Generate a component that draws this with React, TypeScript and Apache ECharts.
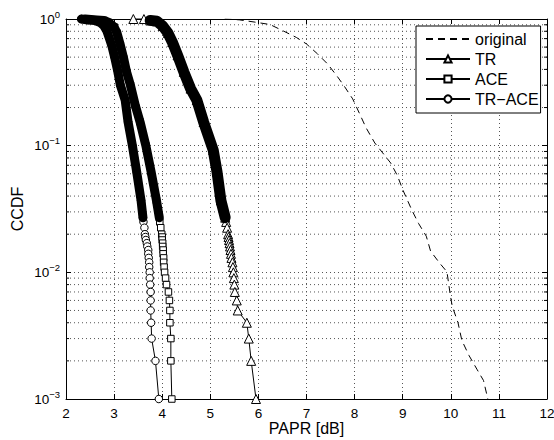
import React, { useEffect, useRef } from "react";
import * as echarts from "echarts";

// ---------- data ----------
const xTickValues = [2, 3, 4, 5, 6, 7, 8, 9, 10, 11, 12];
const yMinorLevels = [
  0.002, 0.003, 0.004, 0.005, 0.006, 0.007, 0.008, 0.009,
  0.02, 0.03, 0.04, 0.05, 0.06, 0.07, 0.08, 0.09,
  0.2, 0.3, 0.4, 0.5, 0.6, 0.7, 0.8, 0.9,
];

const originalX = [5.3, 5.6, 5.91, 6.24, 6.52, 6.79, 7.0, 7.23, 7.44, 7.64, 7.79, 7.96, 8.1, 8.24, 8.42, 8.57, 8.75, 8.89, 9.0, 9.19, 9.33, 9.49, 9.58, 9.77, 9.92, 9.99, 10.03, 10.15, 10.23, 10.38, 10.55, 10.68, 10.77];
const originalP = [1.0, 0.985, 0.947, 0.905, 0.804, 0.715, 0.635, 0.53, 0.441, 0.352, 0.293, 0.234, 0.18, 0.138, 0.105, 0.089, 0.073, 0.058, 0.045, 0.031, 0.0243, 0.0193, 0.0147, 0.0118, 0.0101, 0.0066, 0.0054, 0.004, 0.0029, 0.0022, 0.0017, 0.0014, 0.001];

const trX = [3.4, 3.62, 3.75, 3.89, 4.01, 4.12, 4.21, 4.32, 4.45, 4.59, 4.72, 4.86, 5.06, 5.14, 5.22, 5.31, 5.33, 5.35, 5.37, 5.38, 5.39, 5.4, 5.41, 5.42, 5.43, 5.44, 5.46, 5.47, 5.48, 5.49, 5.5, 5.51, 5.55, 5.57, 5.76, 5.8, 5.85, 5.95];
const trP = [1, 0.999, 0.975, 0.96, 0.881, 0.775, 0.658, 0.517, 0.382, 0.282, 0.229, 0.154, 0.0925, 0.062, 0.037, 0.027, 0.025, 0.0225, 0.02, 0.019, 0.018, 0.017, 0.016, 0.015, 0.014, 0.013, 0.012, 0.011, 0.01, 0.009, 0.008, 0.007, 0.006, 0.005, 0.004, 0.003, 0.002, 0.001];

const aceX = [2.4, 2.64, 2.79, 2.89, 3.0, 3.06, 3.13, 3.2, 3.26, 3.34, 3.44, 3.54, 3.66, 3.77, 3.88, 3.94, 3.95, 3.97, 3.99, 4.0, 4.0, 4.01, 4.01, 4.02, 4.02, 4.03, 4.03, 4.04, 4.05, 4.07, 4.09, 4.13, 4.15, 4.16, 4.16, 4.18, 4.18, 4.2];
const aceP = [1, 0.982, 0.973, 0.938, 0.865, 0.775, 0.62, 0.486, 0.381, 0.3, 0.208, 0.154, 0.1, 0.062, 0.037, 0.027, 0.025, 0.0225, 0.02, 0.019, 0.018, 0.017, 0.016, 0.015, 0.014, 0.013, 0.012, 0.011, 0.01, 0.009, 0.008, 0.007, 0.006, 0.005, 0.004, 0.003, 0.002, 0.001];

const trAceX = [2.32, 2.46, 2.6, 2.71, 2.79, 2.85, 2.9, 2.95, 3.01, 3.07, 3.13, 3.23, 3.29, 3.38, 3.47, 3.56, 3.6, 3.61, 3.63, 3.64, 3.65, 3.66, 3.68, 3.69, 3.71, 3.71, 3.72, 3.73, 3.73, 3.74, 3.74, 3.75, 3.76, 3.76, 3.76, 3.77, 3.78, 3.86, 3.93];
const trAceP = [1, 0.982, 0.973, 0.938, 0.881, 0.804, 0.708, 0.62, 0.501, 0.396, 0.3, 0.229, 0.154, 0.1, 0.062, 0.037, 0.027, 0.025, 0.0225, 0.02, 0.019, 0.018, 0.017, 0.016, 0.015, 0.014, 0.013, 0.012, 0.011, 0.01, 0.009, 0.008, 0.007, 0.006, 0.005, 0.004, 0.003, 0.002, 0.001];

const seriesNames = ["original", "TR", "ACE", "TR\u2212ACE"];

// ---------- helpers ----------
const zip = (xs: number[], ps: number[]) => xs.map((x, i) => [x, ps[i]]);
const FONT = "Liberation Sans";

export default function App() {
  const ref = useRef<HTMLDivElement>(null);

  useEffect(() => {
    if (!ref.current) return;
    const chart = echarts.init(ref.current, null, { renderer: "svg" });

    const trData = zip(trX, trP);
    const aceData = zip(aceX, aceP);
    const trAceData = zip(trAceX, trAceP);

    const dotted = { color: "#555", width: 1, type: [1, 3] as any };

    const markerSeries = (name: string, data: number[][], symbol: string, size: number) => ({
      name,
      type: "line",
      data,
      symbol,
      symbolSize: size,
      showSymbol: true,
      showAllSymbol: true,
      clip: false,
      silent: true,
      z: 3,
      lineStyle: { color: "#000", width: 1 },
      itemStyle: { color: "#fff", borderColor: "#000", borderWidth: 1 },
    });

    const bandSeries = (name: string, data: number[][], width: number) => ({
      name,
      type: "line",
      data: data.filter((d) => d[1] >= 0.027),
      symbol: "none",
      clip: false,
      silent: true,
      z: 4,
      lineStyle: { color: "#000", width, cap: "round", join: "round" },
    });

    const option: any = {
      animation: false,
      textStyle: { fontFamily: FONT },
      grid: { left: 66, right: 7, top: 19, bottom: 41, containLabel: false, outerBoundsMode: "none" },
      legend: {
        data: seriesNames,
        orient: "vertical",
        left: 416,
        top: 26,
        backgroundColor: "#fff",
        borderColor: "#000",
        borderWidth: 1,
        borderRadius: 0,
        padding: [5, 2, 6, 9],
        itemWidth: 44,
        itemHeight: 9,
        itemGap: 4,
        selectedMode: false,
        textStyle: { fontSize: 16, color: "#000", fontFamily: FONT },
        z: 10,
      },
      xAxis: [
        {
          type: "value",
          min: xTickValues[0],
          max: xTickValues[xTickValues.length - 1],
          interval: 1,
          name: "PAPR [dB]",
          nameLocation: "middle",
          nameGap: 21,
          nameMoveOverlap: false,
          nameTextStyle: { fontSize: 16, color: "#000", fontFamily: FONT },
          axisLine: { show: true, lineStyle: { color: "#000", width: 1 } },
          axisTick: { show: true, inside: true, length: 5, lineStyle: { color: "#000" } },
          axisLabel: { fontSize: 13.5, color: "#000", margin: 7, showMinLabel: true, showMaxLabel: true, fontFamily: FONT },
          splitLine: { show: true, lineStyle: dotted },
        },
        {
          type: "value",
          position: "top",
          min: xTickValues[0],
          max: xTickValues[xTickValues.length - 1],
          interval: 1,
          axisLine: { show: true, lineStyle: { color: "#000", width: 1 } },
          axisTick: { show: true, inside: true, length: 5, lineStyle: { color: "#000" } },
          axisLabel: { show: false },
          splitLine: { show: false },
        },
      ],
      yAxis: [
        {
          type: "log",
          logBase: 10,
          min: 0.001,
          max: 1,
          name: "CCDF",
          nameLocation: "middle",
          nameGap: 41,
          nameMoveOverlap: false,
          nameTextStyle: { fontSize: 16, color: "#000", fontFamily: FONT },
          axisLine: { show: true, lineStyle: { color: "#000", width: 1 } },
          axisTick: { show: true, inside: true, length: 5, lineStyle: { color: "#000" } },
          axisLabel: {
            color: "#000",
            margin: 6,
            showMinLabel: true,
            showMaxLabel: true,
            formatter: (v: number) => {
              const e = Math.round(Math.log10(v));
              const s = e === 0 ? "0" : "\u2212" + String(-e);
              return "{b|10}{s|" + s + "}";
            },
            rich: {
              b: { fontSize: 13.5, lineHeight: 20, color: "#000", fontFamily: FONT },
              s: { fontSize: 9.5, lineHeight: 10, verticalAlign: "top", color: "#000", fontFamily: FONT },
            },
          },
          splitLine: { show: true, lineStyle: dotted },
        },
        {
          type: "log",
          logBase: 10,
          min: 0.001,
          max: 1,
          position: "right",
          axisLine: { show: true, lineStyle: { color: "#000", width: 1 } },
          axisTick: { show: true, inside: true, length: 5, lineStyle: { color: "#000" } },
          axisLabel: { show: false },
          splitLine: { show: false },
        },
      ],
      series: [
        {
          name: "_minor",
          type: "custom",
          xAxisIndex: 0,
          yAxisIndex: 0,
          silent: true,
          z: 1,
          data: yMinorLevels.map((v) => [xTickValues[0], v]),
          encode: { x: 0, y: 1 },
          renderItem: (params: any, api: any) => {
            const pt = api.coord([api.value(0), api.value(1)]);
            const cs = params.coordSys;
            const y = pt[1];
            return {
              type: "group",
              children: [
                { type: "line", shape: { x1: cs.x, y1: y, x2: cs.x + cs.width, y2: y }, style: { stroke: "#555", lineWidth: 1, lineDash: [1, 3] } },
                { type: "line", shape: { x1: cs.x, y1: y, x2: cs.x + 3, y2: y }, style: { stroke: "#000", lineWidth: 1 } },
                { type: "line", shape: { x1: cs.x + cs.width - 3, y1: y, x2: cs.x + cs.width, y2: y }, style: { stroke: "#000", lineWidth: 1 } },
              ],
            };
          },
        },
        {
          name: seriesNames[0],
          type: "line",
          data: zip(originalX, originalP),
          symbol: "none",
          showSymbol: false,
          clip: true,
          silent: true,
          z: 3,
          lineStyle: { color: "#000", width: 1, type: [7, 5] },
          itemStyle: { color: "transparent", borderColor: "transparent" },
        },
        markerSeries(seriesNames[1], trData, "triangle", 9),
        markerSeries(seriesNames[2], aceData, "rect", 6.5),
        markerSeries(seriesNames[3], trAceData, "circle", 7.5),
        bandSeries("_bandTR", trData.slice(2), 11),
        bandSeries("_bandACE", aceData, 9),
        bandSeries("_bandTRACE", trAceData, 9),
      ],
    };

    chart.setOption(option);
    return () => chart.dispose();
  }, []);

  return (
    <div
      ref={ref}
      style={{ position: "fixed", left: 0, top: 0, width: 554, height: 440, background: "#fff" }}
    />
  );
}
